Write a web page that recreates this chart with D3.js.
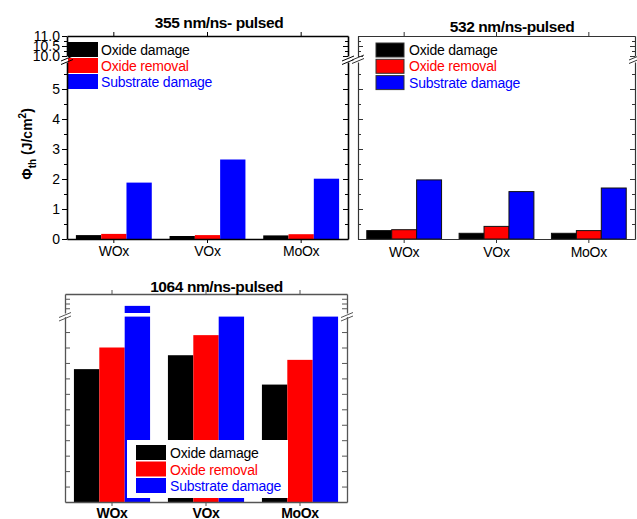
<head>
<meta charset="utf-8">
<script src="https://d3js.org/d3.v7.min.js"></script>
<style>
  body { margin: 0; background: #fff; }
  text { font-family: "Liberation Sans", Arial, sans-serif; }
</style>
</head>
<body>
<div id="chart"></div>
<script>
// categories and series
const categories = ["WOx", "VOx", "MoOx"];
const seriesNames = ["Oxide damage", "Oxide removal", "Substrate damage"];
const seriesColors = ["#000000", "#ff0000", "#0000ff"];

// values, one row per series (J/cm2)
const values355 = [[0.13, 0.10, 0.12], [0.17, 0.13, 0.16], [1.88, 2.65, 2.01]];
const values532 = [[0.28, 0.19, 0.19], [0.31, 0.42, 0.28], [1.97, 1.58, 1.70]];
const values1064 = [[8.6, 9.5, 7.6], [10.0, 10.8, 9.2], [21.5, 15.0, 15.0]];

// tick values
const lowTicks = [0, 1, 2, 3, 4, 5];
const lowMinor = [0.5, 1.5, 2.5, 3.5, 4.5, 5.5];
const highTicks = [10.0, 10.5, 11.0];
const highMinor = [10.25, 10.75];
const lowTicks1064 = [1, 2, 3, 4, 5, 6, 7, 8, 9, 10, 11];
const highTicks1064 = [21, 22, 23];

const W = 637, H = 519;
const svg = d3.select("#chart").append("svg").attr("width", W).attr("height", H);

const panels = [
  { title: "355 nm/ns- pulsed", tx: 219, ty: 28, values: values355,
    x0: 67, x1: 348, top: 36, bottom: 239,
    low: [[0, 5.9], [239, 62]], high: [[10, 11], [56, 36]], brk: 59,
    frame: "#000", fw: 1.6, barStroke: null, labels: true, outTicksLeft: true,
    lowMajor: lowTicks, lowMinor: lowMinor, highMajor: highTicks, highMinor: highMinor,
    catBold: false, catY: 256,
    legend: { x: 68, y: 42, sw: 30, sh: 15, step: 16, tx: 101, box: false, swStroke: null } },
  { title: "532 nm/ns-pulsed", tx: 512, ty: 31.5, values: values532,
    x0: 358, x1: 635, top: 36, bottom: 239,
    low: [[0, 5.9], [239, 62]], high: [[10, 11], [56, 36]], brk: 58,
    frame: "#333", fw: 1.2, barStroke: "#111", labels: false, outTicksLeft: false,
    lowMajor: lowTicks, lowMinor: lowMinor, highMajor: highTicks, highMinor: highMinor,
    catBold: false, catY: 256.5,
    legend: { x: 376, y: 43, sw: 28, sh: 14, step: 16.3, tx: 409, box: false, swStroke: "#333" } },
  { title: "1064 nm/ns-pulsed", tx: 216.5, ty: 291.5, values: values1064,
    x0: 65, x1: 347, top: 294, bottom: 502,
    low: [[0, 12], [502, 316.6]], high: [[20, 24], [313, 294]], brk: 315.5,
    frame: "#555", fw: 1.3, barStroke: null, labels: false, outTicksLeft: false,
    lowMajor: lowTicks1064, lowMinor: [], highMajor: highTicks1064, highMinor: [],
    catBold: true, catY: 518,
    legend: { x: 136, y: 445, sw: 30, sh: 15, step: 16.5, tx: 170, box: [127, 440, 161, 58], swStroke: null } }
];

function drawPanel(p) {
  const g = svg.append("g");
  const yLow = d3.scaleLinear().domain(p.low[0]).range(p.low[1]);
  const yHigh = d3.scaleLinear().domain(p.high[0]).range(p.high[1]);
  const x = d3.scaleBand().domain(categories).range([p.x0, p.x1]).paddingInner(0).paddingOuter(0);
  const groupW = x.bandwidth() * 0.81;
  const xs = d3.scaleBand().domain(d3.range(seriesNames.length)).range([0, groupW]);

  // bars
  p.values.forEach((row, si) => {
    row.forEach((v, ci) => {
      const bx = x(categories[ci]) + (x.bandwidth() - groupW) / 2 + xs(si);
      const lowTop = yLow(Math.min(v, p.low[0][1]));
      g.append("rect")
        .attr("x", bx).attr("y", lowTop)
        .attr("width", xs.bandwidth()).attr("height", yLow(0) - lowTop)
        .attr("fill", seriesColors[si])
        .attr("stroke", p.barStroke || "none").attr("stroke-width", 1);
      if (v > p.high[0][0]) {
        const hTop = yHigh(Math.min(v, p.high[0][1]));
        g.append("rect")
          .attr("x", bx).attr("y", hTop)
          .attr("width", xs.bandwidth()).attr("height", yHigh(p.high[0][0]) - hTop)
          .attr("fill", seriesColors[si])
          .attr("stroke", p.barStroke || "none").attr("stroke-width", 1);
      }
    });
  });

  // legend
  const L = p.legend;
  if (L.box) {
    g.append("rect").attr("x", L.box[0]).attr("y", L.box[1])
      .attr("width", L.box[2]).attr("height", L.box[3]).attr("fill", "#fff");
  }
  seriesNames.forEach((name, i) => {
    g.append("rect").attr("x", L.x).attr("y", L.y + i * L.step)
      .attr("width", L.sw).attr("height", L.sh)
      .attr("fill", seriesColors[i])
      .attr("stroke", L.swStroke || "none").attr("stroke-width", 1);
    g.append("text").attr("x", L.tx).attr("y", L.y + i * L.step + L.sh - 2)
      .attr("font-size", 14).attr("letter-spacing", -0.2)
      .attr("fill", seriesColors[i]).text(name);
  });

  // axes
  const axG = g.append("g").attr("color", p.frame);
  function yAxis(scale, major, minor, xPos, side, labels) {
    const outLeft = side === "left" && p.outTicksLeft;
    const mk = outLeft ? d3.axisLeft : (side === "left" ? d3.axisRight : d3.axisLeft);
    const fmt = scale === yHigh && p.high[0][1] <= 11 ? d3.format(".1f") : d3.format("d");
    const a = axG.append("g").attr("transform", `translate(${xPos},0)`)
      .call(mk(scale).tickValues(major).tickSize(5).tickSizeOuter(0)
        .tickFormat(labels ? fmt : ""));
    a.select(".domain").attr("stroke-width", p.fw);
    a.selectAll(".tick line").attr("stroke-width", 1);
    a.selectAll(".tick text").attr("font-size", 14).attr("fill", "#000")
      .attr("x", outLeft ? -7 : 0);
    if (minor.length) {
      const b = axG.append("g").attr("transform", `translate(${xPos},0)`)
        .call(mk(scale).tickValues(minor).tickSize(3).tickSizeOuter(0).tickFormat(""));
      b.select(".domain").remove();
    }
  }
  yAxis(yLow, p.lowMajor, p.lowMinor, p.x0, "left", p.labels);
  yAxis(yHigh, p.highMajor, p.highMinor, p.x0, "left", p.labels);
  yAxis(yLow, p.lowMajor, p.lowMinor, p.x1, "right", false);
  yAxis(yHigh, p.highMajor, p.highMinor, p.x1, "right", false);

  // top and bottom axes
  const xb = axG.append("g").attr("transform", `translate(0,${p.bottom})`)
    .call(d3.axisBottom(x).tickSize(4).tickSizeOuter(0).tickFormat(""));
  xb.select(".domain").attr("stroke-width", p.fw);
  const xt = axG.append("g").attr("transform", `translate(0,${p.top})`)
    .call(d3.axisBottom(x).tickSize(-4).tickSizeOuter(0).tickFormat(""));
  xt.select(".domain").attr("stroke-width", p.fw);
  categories.forEach(c => {
    g.append("text").attr("x", x(c) + x.bandwidth() / 2).attr("y", p.catY)
      .attr("text-anchor", "middle").attr("font-size", 14)
      .attr("font-weight", p.catBold ? "bold" : "normal").attr("letter-spacing", -0.3)
      .text(c);
  });

  // axis breaks
  [p.x0, p.x1].forEach(bx => {
    [0, 3.5].forEach(off => {
      g.append("line")
        .attr("x1", bx - 6).attr("y1", p.brk + 2 + off)
        .attr("x2", bx + 6).attr("y2", p.brk - 3 + off)
        .attr("stroke", p.frame).attr("stroke-width", 1);
    });
  });

  // title
  g.append("text").attr("x", p.tx).attr("y", p.ty).attr("text-anchor", "middle")
    .attr("font-size", 15.5).attr("font-weight", "bold").attr("letter-spacing", -0.4)
    .text(p.title);
}

panels.forEach(drawPanel);

// y axis title
const yt = svg.append("text").attr("transform", "translate(32,144) rotate(-90)")
  .attr("text-anchor", "middle").attr("font-size", 14).attr("font-weight", "bold");
yt.append("tspan").text("Φ");
yt.append("tspan").attr("font-size", 10).attr("dy", 4).text("th");
yt.append("tspan").attr("dy", -4).text(" (J/cm");
yt.append("tspan").attr("font-size", 10).attr("dy", -6).text("2");
yt.append("tspan").attr("dy", 6).text(")");
</script>
</body>
